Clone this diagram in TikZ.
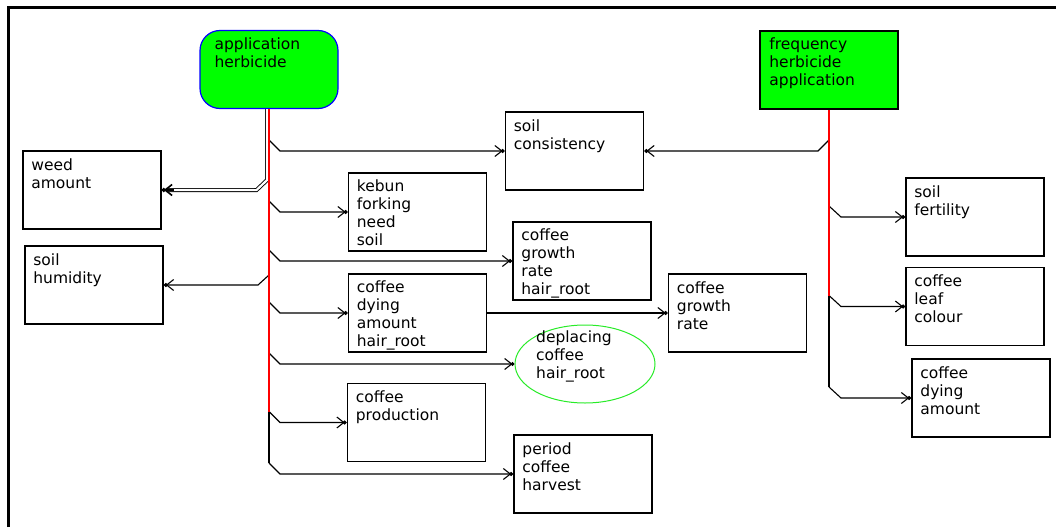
\documentclass[tikz,border=0pt]{standalone}
\usepackage{fontspec}
\setmainfont{DejaVu Sans}
\usetikzlibrary{arrows.meta,shapes.geometric}

\definecolor{boxgreen}{RGB}{0,255,0}
\definecolor{ringgreen}{RGB}{40,235,40}

\tikzset{
  box/.style={draw, line width=1.6pt, minimum width=138pt, minimum height=78pt, inner sep=0pt},
  lbl/.style={anchor=north west, align=left, inner sep=0pt, font=\fontsize{15.5}{18}\selectfont},
  link/.style={line width=1.1pt, -{Straight Barb[length=7pt,width=11pt,sep=-2pt]Circle[length=4pt]}},
  bus/.style={line width=1.3pt, red},
}

\begin{document}
\begin{tikzpicture}[x=1pt, y=-1pt]
  \useasboundingbox (0,0) rectangle (1056,527);

  % window frame
  \draw[line width=3pt] (8.5,527) -- (8.5,7.5) -- (1056,7.5);

  % the two causes
  \node[box, draw=blue, fill=boxgreen, rounded corners=20pt, line width=1.2pt] (apph) at (269,69.5) {};
  \node[lbl] (appht) at ([shift={(15,8)}]apph.north west) {application\\herbicide};
  \node[box, fill=boxgreen] (freq) at (829,70) {};
  \node[lbl] (freqt) at ([shift={(10,7)}]freq.north west) {frequency\\herbicide\\application};

  % left column
  \node[box] (weed) at (92,190) {};
  \node[lbl] (weedt) at ([shift={(9,8)}]weed.north west) {weed\\amount};
  \node[box] (humid) at (94,285) {};
  \node[lbl] (humidt) at ([shift={(9,8)}]humid.north west) {soil\\humidity};

  % middle columns
  \node[box] (kebun) at (417.5,212) {};
  \node[lbl] (kebunt) at ([shift={(9,7)}]kebun.north west) {kebun\\forking\\need\\soil};
  \node[box] (cdah) at (417.5,313) {};
  \node[lbl] (cdaht) at ([shift={(9,7)}]cdah.north west) {coffee\\dying\\amount\\hair\_root};
  \node[box] (cprod) at (416.5,422.5) {};
  \node[lbl] (cprodt) at ([shift={(9,8)}]cprod.north west) {coffee\\production};

  \node[box] (cons) at (574.5,151) {};
  \node[lbl] (const) at ([shift={(9,8)}]cons.north west) {soil\\consistency};
  \node[box] (cgrh) at (582,261) {};
  \node[lbl] (cgrht) at ([shift={(9,7)}]cgrh.north west) {coffee\\growth\\rate\\hair\_root};
  \node[ellipse, draw=ringgreen, line width=1pt, minimum width=140pt, minimum height=78pt, inner sep=0pt] (depl) at (585,364) {};
  \node[lbl] (deplt) at (536,331) {deplacing\\coffee\\hair\_root};
  \node[box] (period) at (583,474) {};
  \node[lbl] (periodt) at ([shift={(9,8)}]period.north west) {period\\coffee\\harvest};

  \node[box] (cgr) at (737.5,313) {};
  \node[lbl] (cgrt) at ([shift={(9,8)}]cgr.north west) {coffee\\growth\\rate};

  % right column
  \node[box] (sfert) at (975,217) {};
  \node[lbl] (sfertt) at ([shift={(9,8)}]sfert.north west) {soil\\fertility};
  \node[box] (leaf) at (975,306.5) {};
  \node[lbl] (leaft) at ([shift={(9,8)}]leaf.north west) {coffee\\leaf\\colour};
  \node[box] (cdam) at (981,398) {};
  \node[lbl] (cdamt) at ([shift={(9,8)}]cdam.north west) {coffee\\dying\\amount};

  % branches of application herbicide
  \foreach \t in {cons,kebun,cgrh,cdah,depl,cprod,period}
    \draw[link] (\t.west -| apph.south) ++(0,-11) -- ++(11,11) -- (\t.west);
  \draw[link] (humid.east -| apph.south) ++(0,-10) -- ++(-11,10) -- (humid.east);
  \draw[line width=0.9pt, double, double distance=2.2pt, shorten >=5pt]
    ([xshift=-2pt]apph.south) -- ++(0,71) -- ++(-10.5,10) -- (weed.east);
  \draw[link, line width=1.6pt] ([xshift=12pt]weed.east) -- (weed.east);
  \draw[link] (cdah.east) -- (cgr.west);

  % branches of frequency herbicide application
  \foreach \t in {sfert,leaf,cdam}
    \draw[link] (\t.west -| freq.south) ++(0,-11) -- ++(12,11) -- (\t.west);
  \draw[link] (cons.east -| freq.south) ++(0,-11) -- ++(-11,11) -- (cons.east);

  % buses
  \coordinate (lturn) at (269,411.5);
  \coordinate (lfoot) at (269,463);
  \coordinate (rturn) at (829,295.5);
  \coordinate (rfoot) at (829,387);
  \draw[bus] (apph.south) -- (lturn);
  \draw[line width=1.3pt] (lturn) -- (lfoot);
  \draw[bus] (freq.south) -- (rturn);
  \draw[line width=1.3pt] (rturn) -- (rfoot);
\end{tikzpicture}
\end{document}
